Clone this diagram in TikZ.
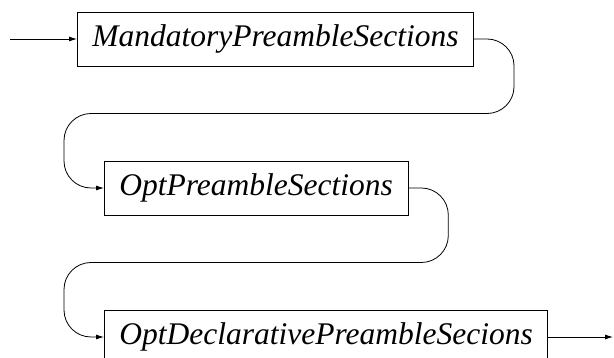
\documentclass[tikz,border=0pt]{standalone}
\usepackage{fontspec}
\setmainfont{Liberation Serif}
\usepackage{tikz}
\usetikzlibrary{arrows.meta, positioning, calc}

\tikzset{
  rule/.style={draw, line width=0.8pt, minimum height=54pt, inner xsep=15pt,
    font=\fontsize{31.5}{36}\selectfont\itshape},
  track/.style={line width=0.8pt, rounded corners=27pt},
  tip/.style={-{Latex[length=8pt,width=5pt]}}
}

\begin{document}
\begin{tikzpicture}[x=1pt, y=1pt]
\useasboundingbox (0,0) rectangle (614,-358);

% The three sections in sequence
\node[rule, anchor=west] (mand) at (77,-39) {MandatoryPreambleSections};
\node[rule, anchor=west] (opt) at (104,-188) {OptPreambleSections};
\node[rule, anchor=west] (decl) at (104,-337) {OptDeclarativePreambleSecions};

% Entry and exit points
\coordinate (start) at (10,-39);
\coordinate (stop) at (613,-337);

% Entry arrow
\draw[line width=0.8pt, tip] (start) -- (mand.west);

% Wrap from first to second
\draw[track, tip] (mand.east) -- ++(40,0) |- ($(mand.south)!0.5!(opt.north)$)
  -| ([xshift=-40pt]opt.west) -- (opt.west);

% Wrap from second to third
\draw[track, tip] (opt.east) -- ++(40,0) |- ($(opt.south)!0.5!(decl.north)$)
  -| ([xshift=-40pt]decl.west) -- (decl.west);

% Exit arrow
\draw[line width=0.8pt, tip] (decl.east) -- (stop);

\end{tikzpicture}
\end{document}
